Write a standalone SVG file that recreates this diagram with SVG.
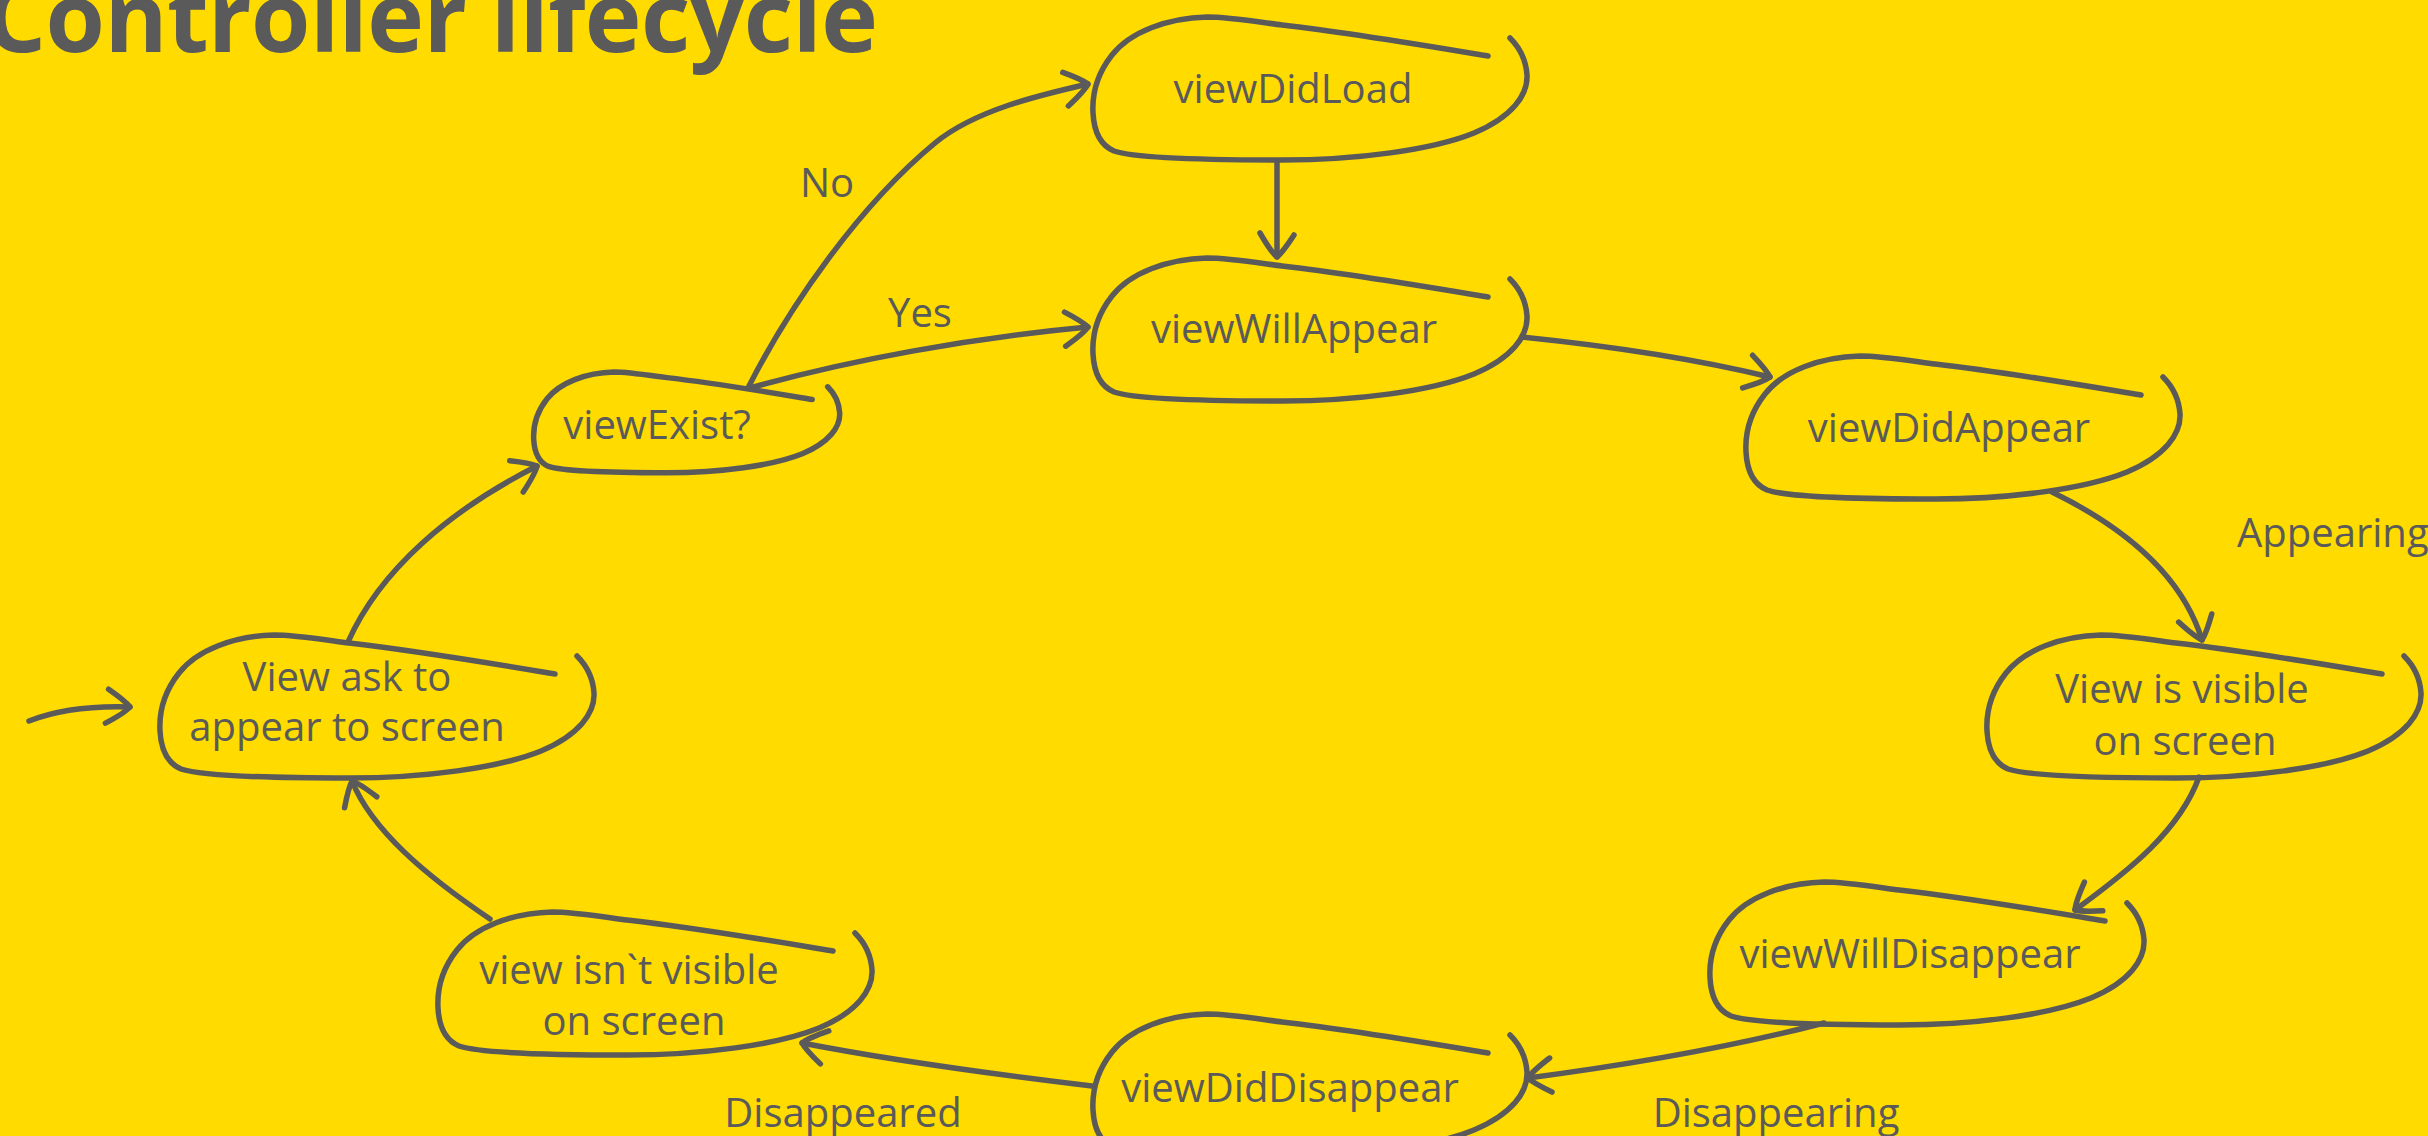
<svg xmlns="http://www.w3.org/2000/svg" xmlns:xlink="http://www.w3.org/1999/xlink" width="2428" height="1136" viewBox="0 0 2428 1136">
<style>
.bg{fill:#FFDB00}
.blob{fill:none;stroke:#5A5A5A;stroke-width:5.5;stroke-linecap:round;stroke-linejoin:round}
.conn{fill:none;stroke:#5A5A5A;stroke-width:5.5;stroke-linecap:round;stroke-linejoin:round;marker-end:url(#arrow)}
.lbl{font-family:"Open Sans","Liberation Sans",sans-serif;font-size:40px;fill:#5A5A5A;text-anchor:middle}
.title{font-family:"Open Sans","Liberation Sans",sans-serif;font-size:96px;font-weight:700;fill:#5A5A5A}
</style>
<defs>
<path id="blob" d="M 396 39 C 330 28 260 16 190 8 C 160 4 135 0 115 0 C 75 1 38 15 20 38 C 5 57 0 78 1 96 C 2 115 8 128 22 134 C 45 142 120 143 190 143 C 265 143 340 133 382 116 C 420 100 436 78 435 58 C 434 43 428 31 418 21"/>
<marker id="arrow" markerUnits="userSpaceOnUse" orient="auto" viewBox="-34 -26 40 52" markerWidth="40" markerHeight="52" refX="0" refY="0" overflow="visible">
<path d="M -22 -17 Q -5 -6 0 0 Q -5 6 -24 17" fill="none" stroke="#5A5A5A" stroke-width="5.5" stroke-linecap="round" stroke-linejoin="round"/>
</marker>
</defs>
<rect class="bg" x="0" y="0" width="2428" height="1136"/>
<text class="title" x="-15" y="52" textLength="893" lengthAdjust="spacing">Controller lifecycle</text>

<g id="connectors">
<path class="conn" d="M 29 721 Q 70 705 130 707"/>
<path class="conn" d="M 748 388 C 790 305 860 205 935 143 C 975 110 1040 95 1088 84"/>
<path class="conn" d="M 750 388 C 850 360 970 338 1088 327"/>
<path class="conn" d="M 1277 162 L 1277 257"/>
<path class="conn" d="M 1522 337 C 1620 347 1700 360 1770 377"/>
<path class="conn" d="M 2052 492 C 2140 535 2185 585 2202 640"/>
<path class="conn" d="M 2199 777 C 2180 830 2130 870 2075 910"/>
<path class="conn" d="M 1824 1023 C 1720 1050 1620 1066 1528 1078"/>
<path class="conn" d="M 1092 1086 C 1000 1075 900 1062 802 1043"/>
<path class="conn" d="M 490 919 C 425 875 372 830 352 781"/>
<path class="conn" d="M 348 642 C 380 570 450 510 537 466"/>
<text class="lbl" x="827" y="197">No</text>
<text class="lbl" x="920" y="327">Yes</text>
<text class="lbl" x="2237" y="547" style="text-anchor:start">Appearing</text>
<text class="lbl" x="1776" y="1127">Disappearing</text>
<text class="lbl" x="843" y="1127">Disappeared</text>
</g>

<g id="viewDidLoad" transform="translate(1092,17)">
<use xlink:href="#blob" class="blob"/>
<text class="lbl" x="201" y="86">viewDidLoad</text>
</g>
<g id="viewWillAppear" transform="translate(1092,258)">
<use xlink:href="#blob" class="blob"/>
<text class="lbl" x="202" y="85">viewWillAppear</text>
</g>
<g id="viewExist" transform="translate(533,372)">
<use xlink:href="#blob" class="blob" transform="scale(0.705)" style="stroke-width:7.8"/>
<text class="lbl" x="124" y="67">viewExist?</text>
</g>
<g id="viewDidAppear" transform="translate(1745,356)">
<use xlink:href="#blob" class="blob"/>
<text class="lbl" x="204" y="86">viewDidAppear</text>
</g>
<g id="viewIsVisible" transform="translate(1986,635)">
<use xlink:href="#blob" class="blob"/>
<text class="lbl" x="196" y="68">View is visible</text>
<text class="lbl" x="199" y="120">on screen</text>
</g>
<g id="viewWillDisappear" transform="translate(1709,882)">
<use xlink:href="#blob" class="blob"/>
<text class="lbl" x="201" y="86">viewWillDisappear</text>
</g>
<g id="viewDidDisappear" transform="translate(1092,1014)">
<use xlink:href="#blob" class="blob"/>
<text class="lbl" x="198" y="88">viewDidDisappear</text>
</g>
<g id="viewIsntVisible" transform="translate(437,912)">
<use xlink:href="#blob" class="blob"/>
<text class="lbl" x="192" y="72">view isn`t visible</text>
<text class="lbl" x="197" y="123">on screen</text>
</g>
<g id="viewAskToAppear" transform="translate(159,635)">
<use xlink:href="#blob" class="blob"/>
<text class="lbl" x="188" y="56">View ask to</text>
<text class="lbl" x="188" y="106">appear to screen</text>
</g>
</svg>
